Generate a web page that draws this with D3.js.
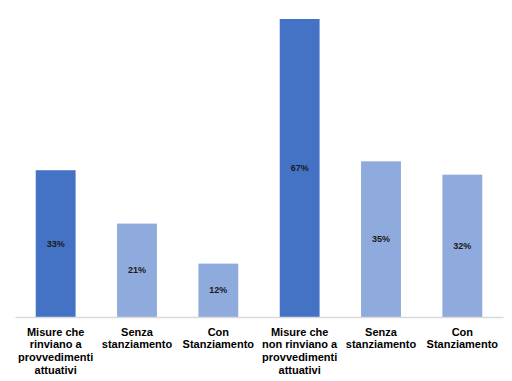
<!DOCTYPE html>
<html>
<head>
<meta charset="utf-8">
<script src="https://cdn.jsdelivr.net/npm/d3@7"></script>
<style>
  html, body { margin: 0; padding: 0; background: #fff; }
  svg { display: block; }
</style>
</head>
<body>
<div id="chart"></div>
<script>
const categories = [
  "Misure che rinviano a provvedimenti attuativi",
  "Senza stanziamento",
  "Con Stanziamento",
  "Misure che non rinviano a provvedimenti attuativi",
  "Senza stanziamento ",
  "Con Stanziamento "
];
const categoryLines = [
  ["Misure che", "rinviano a", "provvedimenti", "attuativi"],
  ["Senza", "stanziamento"],
  ["Con", "Stanziamento"],
  ["Misure che", "non rinviano a", "provvedimenti", "attuativi"],
  ["Senza", "stanziamento"],
  ["Con", "Stanziamento"]
];
const values = [33, 21, 12, 67, 35, 32];
const groupType = ["main", "sub", "sub", "main", "sub", "sub"];

const W = 512, H = 381;
const margin = { left: 15, right: 9, top: 19, bottom: 64 };
const baseline = H - margin.bottom; // 317

const svg = d3.select("#chart").append("svg")
  .attr("width", W).attr("height", H);

const x = d3.scaleBand()
  .domain(categories)
  .range([margin.left, W - margin.right])
  .paddingInner(0.51)
  .paddingOuter(0.255);

const y = d3.scaleLinear()
  .domain([0, 67])
  .range([baseline, margin.top]);

const colors = { main: "#4472C4", sub: "#8FAADC" };

const data = categories.map((c, i) => ({ c, v: values[i], t: groupType[i], lines: categoryLines[i] }));

svg.selectAll("rect.bar").data(data).enter().append("rect")
  .attr("class", "bar")
  .attr("x", d => x(d.c))
  .attr("width", x.bandwidth())
  .attr("y", d => y(d.v))
  .attr("height", d => y(0) - y(d.v))
  .attr("fill", d => colors[d.t]);

// axis line
const xAxis = d3.axisBottom(x).tickSize(0).tickFormat("");
const gx = svg.append("g").attr("transform", `translate(0,${baseline})`).call(xAxis);
gx.select(".domain").attr("stroke", "#d9d9d9").attr("stroke-width", 1.5);

// value labels
svg.selectAll("text.val").data(data).enter().append("text")
  .attr("class", "val")
  .attr("x", d => x(d.c) + x.bandwidth() / 2)
  .attr("y", d => (y(d.v) + y(0)) / 2)
  .attr("dy", "0.35em")
  .attr("text-anchor", "middle")
  .attr("font-family", "Liberation Sans, Arial, sans-serif")
  .attr("font-weight", "bold")
  .attr("font-size", 9)
  .attr("fill", "#1a1a1a")
  .text(d => d.v + "%");

// category labels
const cat = svg.selectAll("text.cat").data(data).enter().append("text")
  .attr("class", "cat")
  .attr("x", d => x(d.c) + x.bandwidth() / 2)
  .attr("y", baseline + 18.5)
  .attr("text-anchor", "middle")
  .attr("font-family", "Liberation Sans, Arial, sans-serif")
  .attr("font-weight", "bold")
  .attr("font-size", 11)
  .attr("fill", "#000");
cat.each(function(d) {
  const t = d3.select(this);
  d.lines.forEach((ln, i) => {
    t.append("tspan")
      .attr("x", x(d.c) + x.bandwidth() / 2)
      .attr("dy", i === 0 ? 0 : 12.8)
      .text(ln);
  });
});
</script>
</body>
</html>
